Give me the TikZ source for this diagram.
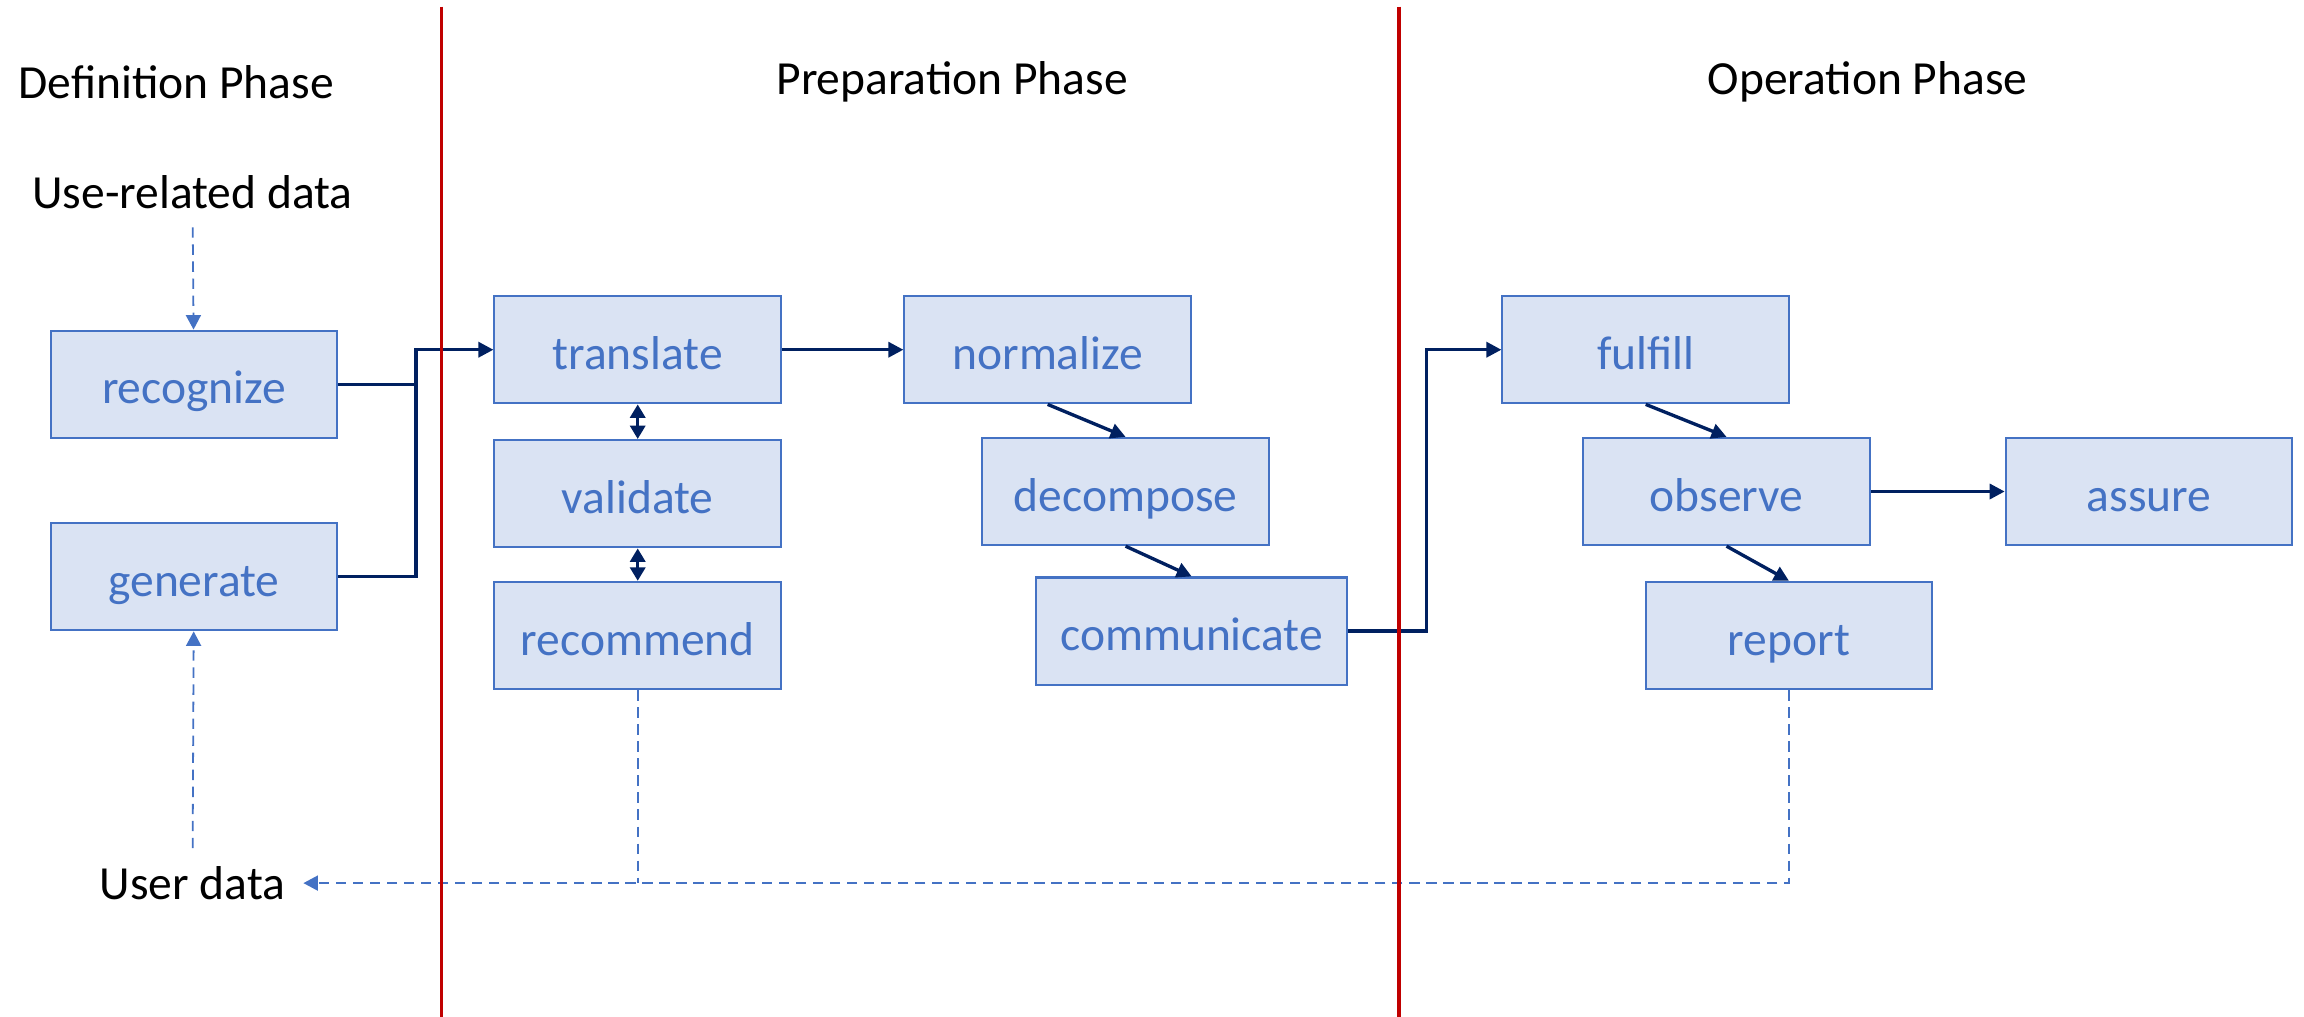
\documentclass[tikz,border=0pt]{standalone}
\usepackage{fontspec}
\setmainfont{Carlito}
\usetikzlibrary{arrows.meta}
\definecolor{boxfill}{HTML}{DAE3F3}
\definecolor{boxline}{HTML}{4472C4}
\definecolor{navy}{HTML}{002060}
\definecolor{phasered}{HTML}{C00000}
\tikzset{
  stepbox/.style={draw=boxline,fill=boxfill,line width=0.4pt,text=boxline,
    minimum width=19.5mm,minimum height=7.3mm,inner sep=0pt,
    text height=0.76em,text depth=0pt},
  flow/.style={navy,line width=0.65pt,-{Triangle[length=2.9pt,width=2.9pt]}},
  bothway/.style={navy,line width=0.65pt,{Triangle[length=2.6pt,width=2.9pt]}-{Triangle[length=2.6pt,width=2.9pt]}},
  dline/.style={boxline,line width=0.35pt,dash pattern=on 2pt off 1.3pt},
  dflow/.style={dline,-{Triangle[length=2.8pt,width=2.9pt]}},
  divider/.style={phasered,line width=0.75pt}
}
\begin{document}
\begin{tikzpicture}[x=0.1mm,y=-0.1mm,font=\fontsize{9.2}{11}\selectfont]
    \useasboundingbox (0,0) rectangle (1568,692);
    %% phases
    \node (defphase) at (120,56) {Definition Phase};
    \node (prepphase) at (648,56) {Preparation Phase};
    \node (opphase) at (1271,56) {Operation Phase};
    %% data
    \node (usedata) at (131,131) {Use-related data};
    \node (userdata) at (131,601) {User data};
    %% definition steps
    \node[stepbox] (rec) at (132,261.5) {recognize};
    \node[stepbox] (gen) at (132,392.5) {generate};
    %% preparation steps
    \node[stepbox] (trans) at (434,238) {translate};
    \node[stepbox] (valid) at (434,336) {validate};
    \node[stepbox] (recom) at (434,432.5) {recommend};
    \node[stepbox] (norm) at (713,238) {normalize};
    \node[stepbox] (decomp) at (766,334.5) {decompose};
    \node[stepbox,minimum width=21.2mm] (comm) at (811,429.5) {communicate};
    %% operation steps
    \node[stepbox] (fulfill) at (1120,238) {fulfill};
    \node[stepbox] (observe) at (1175,334.5) {observe};
    \node[stepbox] (report) at (1217.5,432.5) {report};
    \node[stepbox] (assure) at (1462.5,334.5) {assure};
    %% flow
    \coordinate (join) at (283,238);
    \draw[flow] (rec.east) -| (join) -- (trans.west);
    \draw[navy,line width=0.65pt] (gen.east) -| (join);
    \draw[flow] (trans) -- (norm);
    \draw[bothway] (trans) -- (valid);
    \draw[bothway] (valid) -- (recom);
    \draw[flow] (norm.south) -- (decomp.north);
    \draw[flow] (decomp.south) -- (comm.north);
    \draw[flow] (comm.east) -- ++(53,0) |- (fulfill.west);
    \draw[flow] (fulfill.south) -- (observe.north);
    \draw[flow] (observe.south) -- (report.north);
    \draw[flow] (observe) -- (assure);
    %% data links
    \draw[dflow] (usedata) -- (rec);
    \draw[dflow] (userdata) -- (gen);
    \draw[dline] (recom.south) -- (recom.south |- userdata.east);
    \draw[dflow] (report.south) |- (userdata.east);
    %% phase borders
    \draw[divider] (300.5,4.5) -- (300.5,692);
    \draw[divider] (952,4.5) -- (952,692);
\end{tikzpicture}
\end{document}
